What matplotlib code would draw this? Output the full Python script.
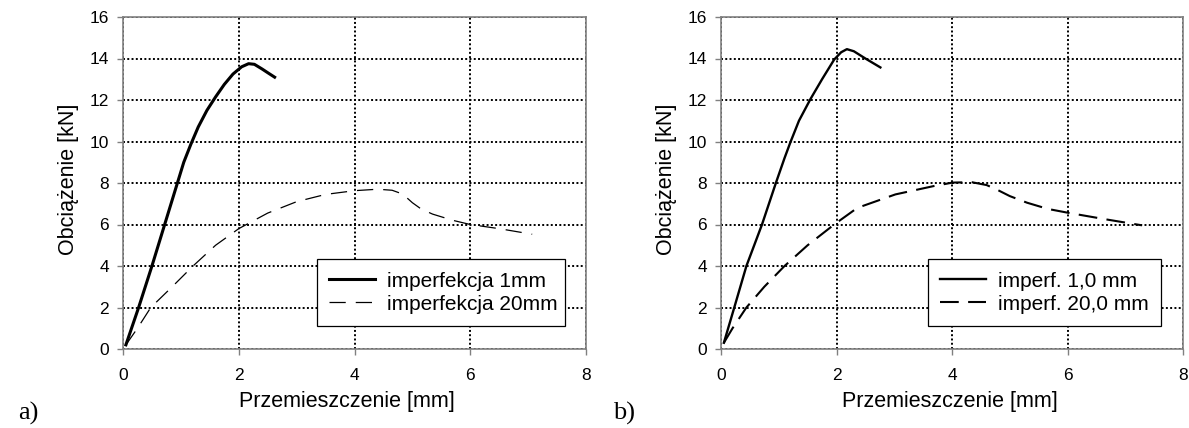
import matplotlib
matplotlib.use("Agg")
import matplotlib.pyplot as plt

plt.rcParams['font.family'] = ['Liberation Sans', 'DejaVu Sans']

# ---- data ----
a_x_1mm = [0.05, 0.27, 0.50, 0.72, 0.94, 1.05, 1.17, 1.30, 1.45, 1.60, 1.75, 1.90, 2.05, 2.17, 2.27, 2.40, 2.52, 2.62]
a_y_1mm = [0.2, 2.0, 4.0, 6.0, 8.0, 9.0, 9.85, 10.7, 11.5, 12.15, 12.75, 13.25, 13.6, 13.75, 13.72, 13.5, 13.28, 13.1]
a_x_20mm = [0.05, 0.25, 0.48, 0.85, 1.21, 1.60, 2.00, 2.50, 3.00, 3.50, 4.00, 4.40, 4.65, 4.80, 4.90, 5.00, 5.15, 5.35, 5.70, 6.00, 6.50, 7.07]
a_y_20mm = [0.2, 1.0, 2.0, 3.0, 4.0, 5.0, 5.8, 6.55, 7.1, 7.45, 7.63, 7.7, 7.65, 7.5, 7.3, 7.05, 6.75, 6.5, 6.2, 6.0, 5.8, 5.53]

b_x_1mm = [0.05, 0.23, 0.44, 0.71, 0.95, 1.10, 1.20, 1.35, 1.55, 1.75, 1.96, 2.08, 2.18, 2.30, 2.50, 2.76]
b_y_1mm = [0.3, 2.0, 4.0, 6.0, 8.0, 9.2, 9.95, 11.0, 12.05, 13.0, 13.95, 14.3, 14.45, 14.35, 14.0, 13.57]
b_x_20mm = [0.05, 0.20, 0.44, 0.75, 1.10, 1.50, 1.96, 2.36, 3.02, 3.68, 4.01, 4.34, 4.60, 4.80, 5.00, 5.30, 5.66, 6.00, 6.66, 7.29]
b_y_20mm = [0.3, 1.0, 2.0, 3.0, 4.0, 5.0, 6.0, 6.8, 7.45, 7.85, 8.02, 8.04, 7.9, 7.65, 7.37, 7.05, 6.75, 6.57, 6.25, 5.96]

x_ticks = [0, 2, 4, 6, 8]
y_ticks = [0, 2, 4, 6, 8, 10, 12, 14, 16]
x_label = "Przemieszczenie [mm]"
y_label = "Obciążenie [kN]"
labels_a = ["imperfekcja 1mm", "imperfekcja 20mm"]
labels_b = ["imperf. 1,0 mm", "imperf. 20,0 mm"]

W, H = 1189, 428
fig = plt.figure(figsize=(W / 100, H / 100), dpi=100)

ax_a = fig.add_axes([123 / W, 1 - 349 / H, 463 / W, 332 / H])
ax_b = fig.add_axes([721 / W, 1 - 349 / H, 462 / W, 332 / H])


def style(ax, xlab_x):
    ax.set_xlim(0, 8)
    ax.set_ylim(0, 16)
    ax.set_xticks(x_ticks)
    ax.set_yticks(y_ticks)
    ax.grid(True, color='black', linestyle=(0, (1, 1.2)), linewidth=1.4)
    ax.set_axisbelow(True)
    for s in ax.spines.values():
        s.set_color('#808080')
        s.set_linewidth(1.2)
    ax.tick_params(direction='out', length=4, width=1, color='#808080',
                   labelsize=12.5)
    ax.tick_params(axis='x', pad=10)
    ax.tick_params(axis='y', pad=6)
    ax.set_xlabel(x_label, fontsize=15.5, va='center')
    ax.set_ylabel(y_label, fontsize=15.5, va='center')
    ax.xaxis.set_label_coords(xlab_x, -0.157)
    ax.yaxis.set_label_coords(-0.118, 0.51)


style(ax_a, 0.484)
style(ax_b, 0.495)

ax_a.plot(a_x_1mm, a_y_1mm, color='black', linewidth=2.2, label=labels_a[0])
ax_a.plot(a_x_20mm, a_y_20mm, color='black', linewidth=0.9,
          linestyle=(0, (13, 8)), label=labels_a[1])

ax_b.plot(b_x_1mm, b_y_1mm, color='black', linewidth=1.7, label=labels_b[0])
ax_b.plot(b_x_20mm, b_y_20mm, color='black', linewidth=1.5,
          linestyle=(0, (9, 4.5)), label=labels_b[1])

for ax, x0, x1 in [(ax_a, 0.419, 0.955), (ax_b, 0.448, 0.952)]:
    leg = ax.legend(loc='upper left', bbox_to_anchor=(x0, 0.271, x1 - x0, 0),
                    mode='expand', fontsize=15, frameon=True, fancybox=False,
                    edgecolor='black', framealpha=1, handlelength=2.2,
                    handletextpad=0.55, borderaxespad=0, borderpad=0.6,
                    labelspacing=0.2)
    leg.get_frame().set_linewidth(0.9)

fig.text(18 / W, 1 - 420 / H, "a)", family='Liberation Serif', fontsize=19,
         ha='left', va='baseline')
fig.text(613 / W, 1 - 420 / H, "b)", family='Liberation Serif', fontsize=19,
         ha='left', va='baseline')

fig.savefig("out.png", dpi=100)
